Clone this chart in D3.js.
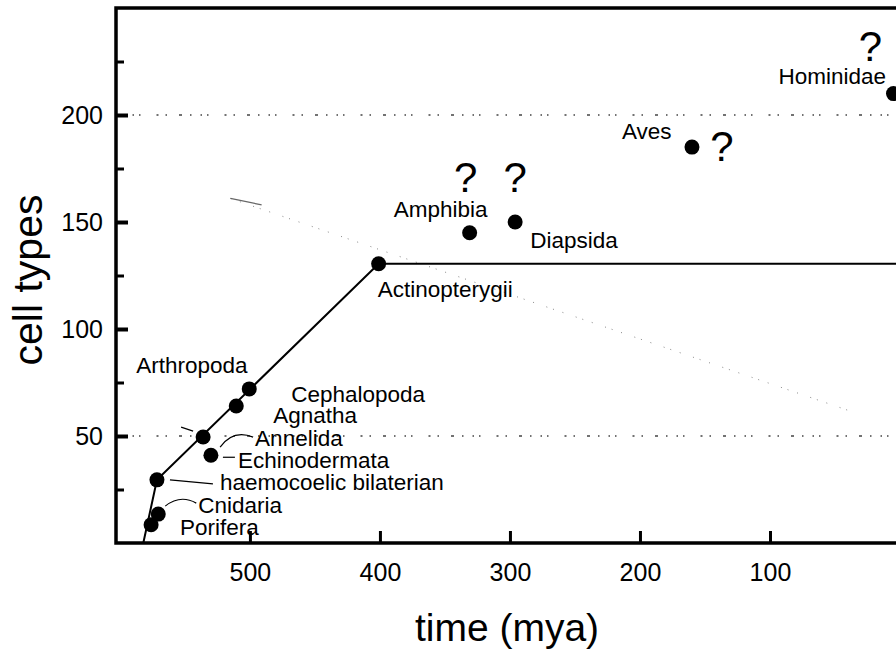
<!DOCTYPE html>
<html>
<head>
<meta charset="utf-8">
<script src="https://cdn.jsdelivr.net/npm/d3@7"></script>
<style>
  body { margin: 0; background: #fff; }
  svg { display: block; font-family: "Liberation Sans", Arial, Helvetica, sans-serif; }
</style>
</head>
<body>
<div id="chart"></div>
<script>
// data
const taxa = ["Porifera", "Cnidaria", "haemocoelic bilaterian", "Annelida", "Echinodermata",
  "Cephalopoda", "Arthropoda", "Actinopterygii", "Amphibia", "Diapsida", "Aves", "Hominidae"];
const mya = [576, 570.5, 571.5, 536, 530, 510.5, 500.5, 401, 331, 296, 160, 5];
const cellTypes = [8.5, 13.5, 29.5, 49.5, 41, 64, 72, 130.5, 145, 150, 185, 210];

// trend line
const trendMya = [582, 571.5, 401, -10];
const trendCells = [0, 29.5, 130.5, 130.5];

// dotted reference levels and ticks
const refLevels = [200, 50];
const xTicks = [500, 400, 300, 200, 100];
const yTicks = [50, 100, 150, 200];
const yMinorTicks = [25, 75, 125, 175, 225];

// faint show-through line in the scan
const ghostMya = [515, 40];
const ghostCells = [161, 62];

// taxa flagged with a question mark
const uncertain = ["Amphibia", "Diapsida", "Aves", "Hominidae"];

const svgWidth = 896, svgHeight = 653;
const plotLeft = 116, plotTop = 8, plotBottom = 543, plotRight = 900;

const svg = d3.select("#chart").append("svg")
  .attr("width", svgWidth)
  .attr("height", svgHeight);

const x = d3.scaleLinear().domain([603, 0]).range([plotLeft, plotRight]);
const y = d3.scaleLinear().domain([0, 250]).range([plotBottom, plotTop]);

svg.append("clipPath").attr("id", "plot-clip")
  .append("rect")
  .attr("x", plotLeft).attr("y", plotTop)
  .attr("width", svgWidth - plotLeft).attr("height", plotBottom - plotTop);

const plot = svg.append("g").attr("clip-path", "url(#plot-clip)");

// dotted reference lines (irregular dots like the scan)
plot.selectAll(".ref")
  .data(refLevels)
  .enter().append("line")
  .attr("class", "ref")
  .attr("x1", plotLeft + 6).attr("x2", svgWidth)
  .attr("y1", d => y(d)).attr("y2", d => y(d))
  .style("stroke", "#444")
  .style("stroke-width", 1.4)
  .style("stroke-dasharray", "1.5,9,1.5,5,1.5,16,2,7,1.5,12,3,8");

// faint diagonal
const ghost = d3.line().x(d => x(d[0])).y(d => y(d[1]));
plot.append("path")
  .attr("d", ghost(d3.zip(ghostMya, ghostCells)))
  .style("fill", "none")
  .style("stroke", "#888")
  .style("stroke-width", 1)
  .style("stroke-dasharray", "1,9,1,13,1,6");
plot.append("path")
  .attr("d", ghost([[ghostMya[0], ghostCells[0]], [ghostMya[0] - 24, ghostCells[0] - 3]]))
  .style("stroke", "#666")
  .style("stroke-width", 1.2);

// trend line
const line = d3.line().x(d => x(d[0])).y(d => y(d[1]));
plot.append("path")
  .attr("d", line(d3.zip(trendMya, trendCells)))
  .style("fill", "none")
  .style("stroke", "#000")
  .style("stroke-width", 2);

// points
const points = taxa.map((t, i) => ({ name: t, mya: mya[i], cells: cellTypes[i] }));
const byName = new Map(points.map(p => [p.name, p]));

plot.selectAll(".dot")
  .data(points)
  .enter().append("circle")
  .attr("class", "dot")
  .attr("cx", d => x(d.mya))
  .attr("cy", d => y(d.cells))
  .attr("r", 7.5)
  .style("fill", "#000");

// label layout: pixel offsets from the anchor point
const labelLayout = [
  { text: "Porifera", at: "Porifera", dx: 29, dy: 10 },
  { text: "Cnidaria", at: "Cnidaria", dx: 40, dy: -1 },
  { text: "haemocoelic bilaterian", at: "haemocoelic bilaterian", dx: 63, dy: 10 },
  { text: "Echinodermata", at: "Echinodermata", dx: 27, dy: 13 },
  { text: "Annelida", at: "Annelida", dx: 52, dy: 9 },
  { text: "Agnatha", at: "Cephalopoda", dx: 37, dy: 17 },
  { text: "Cephalopoda", at: "Arthropoda", dx: 42, dy: 13 },
  { text: "Arthropoda", at: "Arthropoda", dx: -113, dy: -16 },
  { text: "Actinopterygii", at: "Actinopterygii", dx: -1, dy: 33 },
  { text: "Amphibia", at: "Amphibia", dx: -76, dy: -16 },
  { text: "Diapsida", at: "Diapsida", dx: 15, dy: 26 },
  { text: "Aves", at: "Aves", dx: -70, dy: -8 },
  { text: "Hominidae", at: "Hominidae", dx: -115, dy: -10 }
];

const leaders = [
  { at: "Cnidaria", d: "M7,-8 Q22,-20 38,-11" },
  { at: "haemocoelic bilaterian", d: "M13,0 L56,4" },
  { at: "Echinodermata", d: "M12,2 L24,2" },
  { at: "Annelida", d: "M17,10 Q30,-8 50,0" },
  { at: "Annelida", d: "M-22,-10 L-10,-6" }
];

const qLayout = { Amphibia: [-4, -41], Diapsida: [0, -30], Aves: [30, 14], Hominidae: [-23, -33] };

svg.selectAll(".label")
  .data(labelLayout)
  .enter().append("text")
  .attr("class", "label")
  .attr("x", d => x(byName.get(d.at).mya) + d.dx)
  .attr("y", d => y(byName.get(d.at).cells) + d.dy)
  .style("font-size", "22.5px")
  .text(d => d.text);

svg.selectAll(".leader")
  .data(leaders)
  .enter().append("path")
  .attr("class", "leader")
  .attr("transform", d => `translate(${x(byName.get(d.at).mya)},${y(byName.get(d.at).cells)})`)
  .attr("d", d => d.d)
  .style("fill", "none")
  .style("stroke", "#000")
  .style("stroke-width", 1.2);

svg.selectAll(".q")
  .data(uncertain)
  .enter().append("text")
  .attr("class", "q")
  .attr("x", d => x(byName.get(d).mya) + qLayout[d][0])
  .attr("y", d => y(byName.get(d).cells) + qLayout[d][1])
  .attr("text-anchor", "middle")
  .style("font-size", "42px")
  .text("?");

// axes, ticks point inward
const yAxis = svg.append("g")
  .attr("transform", `translate(${plotLeft},0)`)
  .call(d3.axisLeft(y).tickValues(yTicks).tickSize(-12).tickPadding(13));
yAxis.select(".domain").remove();
yAxis.selectAll(".tick line").style("stroke-width", 4);
yAxis.selectAll("text").style("font-size", "25px").style("font-family", "inherit");

const yMinor = svg.append("g")
  .attr("transform", `translate(${plotLeft},0)`)
  .call(d3.axisLeft(y).tickValues(yMinorTicks).tickSize(-8).tickFormat(""));
yMinor.select(".domain").remove();
yMinor.selectAll(".tick line").style("stroke-width", 3);

const xAxis = svg.append("g")
  .attr("transform", `translate(0,${plotBottom})`)
  .call(d3.axisBottom(x).tickValues(xTicks).tickSize(-12).tickPadding(20));
xAxis.select(".domain").remove();
xAxis.selectAll(".tick line").style("stroke-width", 3);
xAxis.selectAll("text").style("font-size", "25px").style("font-family", "inherit");

// frame: left, bottom, top (right side runs off the page)
svg.append("path")
  .attr("d", `M${svgWidth + 10},${plotTop} H${plotLeft} V${plotBottom} H${svgWidth + 10}`)
  .style("fill", "none")
  .style("stroke", "#000")
  .style("stroke-width", 3.5);

// axis titles
svg.append("text")
  .attr("transform", "translate(42,280) rotate(-90)")
  .attr("text-anchor", "middle")
  .style("font-size", "41px")
  .text("cell types");

svg.append("text")
  .attr("x", 507)
  .attr("y", 641)
  .attr("text-anchor", "middle")
  .style("font-size", "39px")
  .text("time (mya)");
</script>
</body>
</html>
